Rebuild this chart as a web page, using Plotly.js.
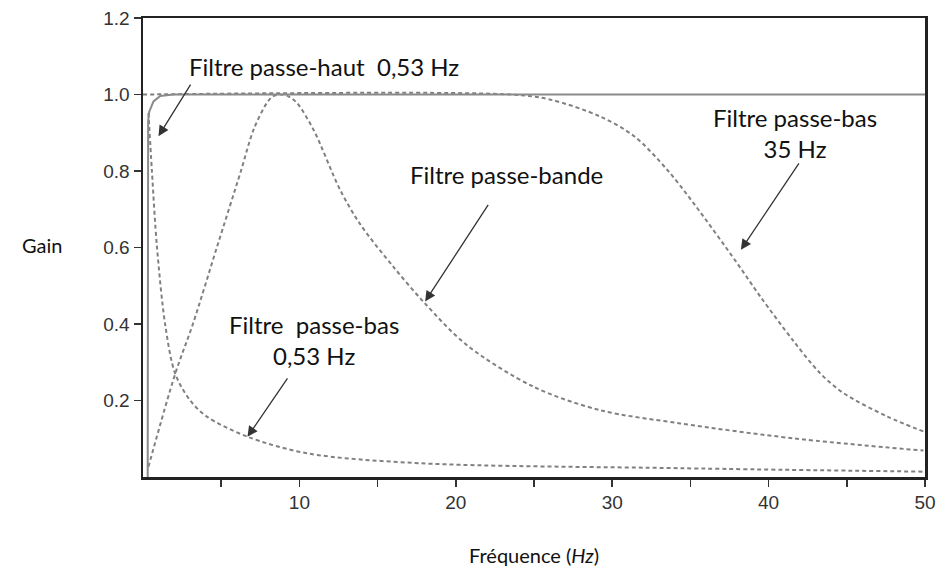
<!DOCTYPE html>
<html>
<head>
<meta charset="utf-8">
<script src="https://cdn.plot.ly/plotly-3.0.1.min.js"></script>
<style>html,body{margin:0;padding:0;background:#fff;}#chart{width:940px;height:570px;}</style>
</head>
<body>
<div id="chart"></div>
<script>
// Passe-haut 0,53 Hz (solid)
const hpFreq = [0.30, 0.33, 0.40, 0.67, 1.10, 1.95, 50];
const hpGain = [0.00, 0.93, 0.955, 0.982, 0.996, 1.00, 1.00];

// Passe-bas 0,53 Hz (dashed)
const lp053Freq = [0.35, 0.57, 0.89, 1.42, 2.06, 3.02, 4.08, 6.64, 10.48, 17.72, 34.35, 49.9];
const lp053Gain = [0.952, 0.80, 0.603, 0.398, 0.27, 0.20, 0.158, 0.106, 0.062, 0.036, 0.023, 0.014];

// Passe-bande (dashed)
const bpFreq = [0.35, 2.06, 3.19, 4.72, 6.26, 7.07, 7.92, 8.30, 8.77, 9.30, 9.84, 10.9, 12.6, 13.9, 16.0, 18.0, 20.7, 24.97, 29.2, 34.35, 41.6, 49.9];
const bpGain = [0.027, 0.27, 0.40, 0.60, 0.80, 0.908, 0.978, 0.995, 1.00, 0.995, 0.978, 0.908, 0.751, 0.66, 0.55, 0.455, 0.345, 0.236, 0.175, 0.14, 0.101, 0.069];

// Passe-bas 35 Hz (dashed)
const lp35Freq = [0, 23.5, 26.0, 29.2, 31.4, 33.5, 35.2, 37.97, 39.5, 41.6, 43.3, 44.8, 47.6, 49.9];
const lp35Gain = [1.00, 1.00, 0.987, 0.943, 0.891, 0.804, 0.716, 0.56, 0.47, 0.355, 0.271, 0.219, 0.158, 0.119];

const xTickVals = [5, 10, 15, 20, 25, 30, 35, 40, 45, 50];
const xTickText = ['', '10', '', '20', '', '30', '', '40', '', '50'];
const yTickVals = [0.2, 0.4, 0.6, 0.8, 1.0, 1.2];
const yTickText = ['0.2', '0.4', '0.6', '0.8', '1.0', '1.2'];

const curveColor = '#808080';
const dashStyle = '4px,3px';
const dashedLine = {color: curveColor, width: 2, dash: dashStyle, shape: 'spline', smoothing: 0.9};

const traces = [
  {x: lp35Freq, y: lp35Gain, mode: 'lines', line: dashedLine},
  {x: bpFreq, y: bpGain, mode: 'lines', line: dashedLine},
  {x: lp053Freq, y: lp053Gain, mode: 'lines', line: dashedLine},
  {x: hpFreq, y: hpGain, mode: 'lines', line: {color: '#8a8a8a', width: 2}}
];

const txtFont = {family: 'Lato, sans-serif', size: 24, color: '#111'};
const arrowBase = {showarrow: true, arrowhead: 2, arrowsize: 1.6, arrowwidth: 1.3, arrowcolor: '#333', text: '', axref: 'pixel', ayref: 'pixel'};

const annotations = [
  {xref: 'x', yref: 'y', x: 2.81, y: 1.073, xanchor: 'left', yanchor: 'middle', text: 'Filtre passe-haut\u00a0 0,53 Hz', showarrow: false, font: txtFont},
  {xref: 'x', yref: 'y', x: 41.7, y: 0.90, xanchor: 'center', yanchor: 'middle', text: 'Filtre passe-bas<br>35 Hz', showarrow: false, font: txtFont},
  {xref: 'x', yref: 'y', x: 23.23, y: 0.79, xanchor: 'center', yanchor: 'middle', text: 'Filtre passe-bande', showarrow: false, font: txtFont},
  {xref: 'x', yref: 'y', x: 10.95, y: 0.358, xanchor: 'center', yanchor: 'middle', text: 'Filtre\u00a0 passe-bas<br>0,53 Hz', showarrow: false, font: txtFont},
  Object.assign({}, arrowBase, {xref: 'x', yref: 'y', x: 0.99, y: 0.891, ax: 33, ay: -53}),
  Object.assign({}, arrowBase, {xref: 'x', yref: 'y', x: 6.68, y: 0.105, ax: 41, ay: -60}),
  Object.assign({}, arrowBase, {xref: 'x', yref: 'y', x: 18.04, y: 0.459, ax: 64, ay: -98}),
  Object.assign({}, arrowBase, {xref: 'x', yref: 'y', x: 38.23, y: 0.594, ax: 59, ay: -88}),
  {xref: 'paper', yref: 'paper', x: -0.129, y: 0.505, xanchor: 'center', yanchor: 'middle', text: 'Gain', showarrow: false, font: {family: 'Lato, sans-serif', size: 20, color: '#111'}},
  {xref: 'paper', yref: 'paper', x: 0.5, y: -0.17, xanchor: 'center', yanchor: 'middle', text: 'Fréquence (<i>Hz</i>)', showarrow: false, font: {family: 'Lato, sans-serif', size: 20, color: '#111'}}
];

const layout = {
  width: 940, height: 570,
  margin: {l: 143, r: 15, t: 18, b: 93},
  paper_bgcolor: '#fff', plot_bgcolor: '#fff',
  showlegend: false,
  xaxis: {
    range: [0, 50], tickmode: 'array', tickvals: xTickVals, ticktext: xTickText,
    ticks: 'outside', ticklen: 7, tickwidth: 1.5, tickcolor: '#333',
    showline: true, linewidth: 2.5, linecolor: '#222', mirror: true,
    showgrid: false, zeroline: false,
    tickfont: {family: 'Liberation Sans, Arial, sans-serif', size: 19, color: '#333'}
  },
  yaxis: {
    range: [0, 1.2], tickmode: 'array', tickvals: yTickVals, ticktext: yTickText,
    ticks: 'outside', ticklen: 7, tickwidth: 1.5, tickcolor: '#333',
    showline: true, linewidth: 2.5, linecolor: '#222', mirror: true,
    showgrid: false, zeroline: false,
    tickfont: {family: 'Liberation Sans, Arial, sans-serif', size: 19, color: '#333'}
  },
  annotations: annotations
};

Plotly.newPlot('chart', traces, layout, {staticPlot: true, displayModeBar: false});
</script>
</body>
</html>
